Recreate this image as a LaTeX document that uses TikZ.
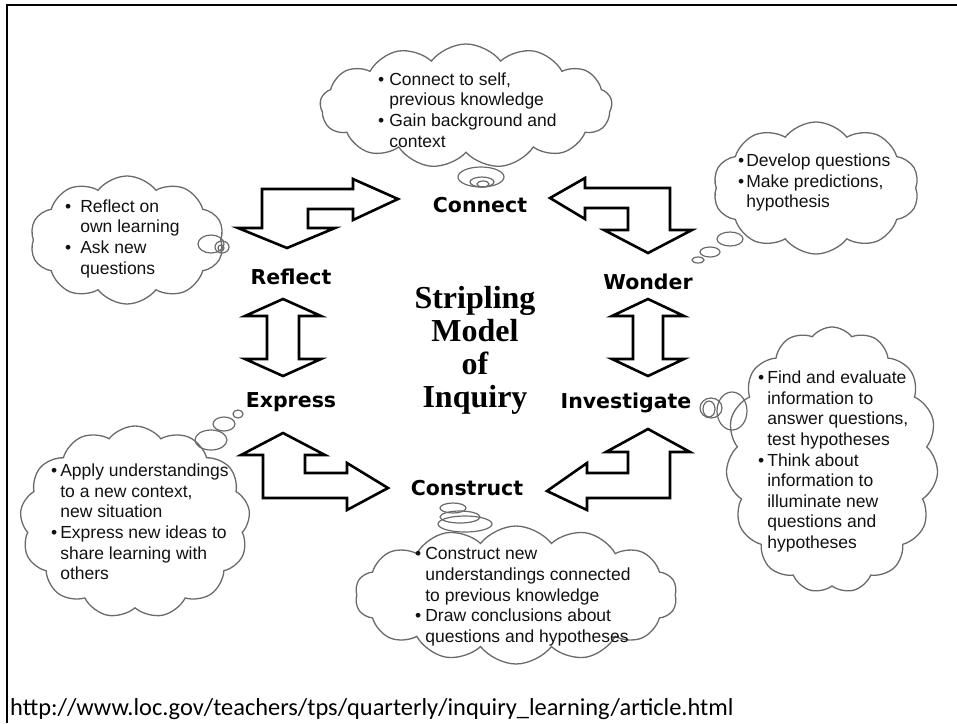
\documentclass[tikz,border=0pt]{standalone}
\usepackage{fontspec}
\setmainfont{Liberation Sans}
\newfontfamily\lblfont{DejaVu Sans}
\newfontfamily\titlefont{Liberation Serif}
\newfontfamily\urlfont{Carlito}
\usetikzlibrary{shapes.symbols}
\definecolor{cloudgray}{HTML}{6A6A6A}
\definecolor{txtgray}{HTML}{111111}
\tikzset{
  thoughtcloud/.style={cloud, cloud puffs=#1, cloud puff arc=105, cloud ignores aspect, draw=cloudgray, line width=1.3pt, inner sep=0pt},
  bubble/.style={draw=cloudgray, line width=1.2pt},
  blockarrow/.style={draw=black, line width=2.6pt, fill=white, line join=miter},
  stage/.style={font=\lblfont\bfseries\fontsize{20.5}{24}\selectfont, inner sep=0pt, anchor=base},
  titleline/.style={font=\titlefont\bfseries\fontsize{32}{33}\selectfont, inner sep=0pt, anchor=base},
  cloudtext/.style={font=\fontsize{17.5}{20.6}\selectfont, text=txtgray, inner sep=0pt, anchor=west, align=left},
  frameline/.style={draw=black, line width=2.6pt}
}
\begin{document}
\begin{tikzpicture}[x=1pt,y=-1pt]
\useasboundingbox (0,0) rectangle (957,723);
% frame
\coordinate (ftl) at (7,5);
\coordinate (ftr) at (957,5);
\coordinate (fbl) at (7,723);
\draw[frameline] (ftr) -- (ftl) -- (fbl);

% clouds
\node[thoughtcloud=13, minimum width=292pt, minimum height=124pt] (cconnect) at (466,106) {};
\node[thoughtcloud=10, minimum width=194pt, minimum height=128pt] (creflect) at (127,240) {};
\node[thoughtcloud=10, minimum width=206pt, minimum height=132pt] (cwonder) at (816,188) {};
\node[thoughtcloud=15, minimum width=212pt, minimum height=266pt] (cinvest) at (832,460) {};
\node[thoughtcloud=13, minimum width=230pt, minimum height=192pt] (cexpress) at (135,522) {};
\node[thoughtcloud=14, minimum width=322pt, minimum height=138pt] (cconstruct) at (516,595) {};

% thought bubbles
\draw[bubble] (481,177) ellipse [x radius=23, y radius=10];
\draw[bubble] (482,182) ellipse [x radius=12, y radius=5];
\draw[bubble] (483,184) ellipse [x radius=6, y radius=3];

\draw[bubble] (211,244) ellipse [x radius=13, y radius=9];
\draw[bubble] (222,247) ellipse [x radius=7, y radius=6];
\draw[bubble] (221,248) ellipse [x radius=3, y radius=3];

\draw[bubble] (730,239) ellipse [x radius=13, y radius=7];
\draw[bubble] (710,252) ellipse [x radius=10, y radius=5];
\draw[bubble] (698,260) ellipse [x radius=6, y radius=3];

\draw[bubble] (732,411) ellipse [x radius=15, y radius=19];
\draw[bubble] (711,408) ellipse [x radius=11, y radius=10];
\draw[bubble] (709,409) ellipse [x radius=6, y radius=8];

\draw[bubble] (211,440) ellipse [x radius=16, y radius=10];
\draw[bubble] (224,424) ellipse [x radius=11, y radius=7];
\draw[bubble] (238,414) ellipse [x radius=5, y radius=4];

\draw[bubble] (465,524) ellipse [x radius=27, y radius=8];
\draw[bubble] (460,517) ellipse [x radius=20, y radius=6];
\draw[bubble] (453,508) ellipse [x radius=13, y radius=5];

% cloud texts
\node[cloudtext] (tconnect) at (378,112) {\begin{tabular}{@{}l@{\hspace{5pt}}l@{}}\textbullet & Connect to self,\\ & previous knowledge\\ \textbullet & Gain background and\\ & context\end{tabular}};
\node[cloudtext] (treflect) at (65,239) {\begin{tabular}{@{}l@{\hspace{9pt}}l@{}}\textbullet & Reflect on\\ & own learning\\ \textbullet & Ask new\\ & questions\end{tabular}};
\node[cloudtext] (twonder) at (738,183) {\begin{tabular}{@{}l@{\hspace{2pt}}l@{}}\textbullet & Develop questions\\ \textbullet & Make predictions,\\ & hypothesis\end{tabular}};
\node[cloudtext] (tinvest) at (758,462) {\begin{tabular}{@{}l@{\hspace{3pt}}l@{}}\textbullet & Find and evaluate\\ & information to\\ & answer questions,\\ & test hypotheses\\ \textbullet & Think about\\ & information to\\ & illuminate new\\ & questions and\\ & hypotheses\end{tabular}};
\node[cloudtext] (texpress) at (51,524) {\begin{tabular}{@{}l@{\hspace{3pt}}l@{}}\textbullet & Apply understandings\\ & to a new context,\\ & new situation\\ \textbullet & Express new ideas to\\ & share learning with\\ & others\end{tabular}};
\node[cloudtext] (tconstruct) at (415,597) {\begin{tabular}{@{}l@{\hspace{4pt}}l@{}}\textbullet & Construct new\\ & understandings connected\\ & to previous knowledge\\ \textbullet & Draw conclusions about\\ & questions and hypotheses\end{tabular}};

% block arrows
\draw[blockarrow] (287,248) -- (335,228) -- (308,228) -- (308,209) -- (353,209) -- (353,220) -- (398,199) -- (353,179) -- (353,189) -- (262,189) -- (262,228) -- (238,228) -- cycle;
\draw[blockarrow] (550,198) -- (585,178) -- (585,188) -- (670,188) -- (670,230) -- (692,230) -- (648,253) -- (604,230) -- (628,230) -- (628,208) -- (585,208) -- (585,219) -- cycle;
\draw[blockarrow] (283,299) -- (321,316) -- (299,316) -- (299,359) -- (321,359) -- (283,376) -- (245,359) -- (267,359) -- (267,316) -- (245,316) -- cycle;
\draw[blockarrow] (648,299) -- (684,316) -- (663,316) -- (663,359) -- (684,359) -- (648,376) -- (612,359) -- (633,359) -- (633,316) -- (612,316) -- cycle;
\draw[blockarrow] (283,433) -- (325,455) -- (305,455) -- (305,473) -- (347,473) -- (347,463) -- (388,488) -- (347,510) -- (347,498) -- (263,498) -- (263,455) -- (241,455) -- cycle;
\draw[blockarrow] (547,491) -- (587,463) -- (587,473) -- (628,473) -- (628,452) -- (606,452) -- (648,429) -- (690,452) -- (670,452) -- (670,498) -- (587,498) -- (587,510) -- cycle;

% stage labels
\node[stage] (connect) at (480,212) {Connect};
\node[stage] (reflect) at (291,284) {Reflect};
\node[stage] (wonder) at (648,289) {Wonder};
\node[stage] (express) at (291,407) {Express};
\node[stage] (investigate) at (626,408) {Investigate};
\node[stage] (construct) at (467,495) {Construct};

% title
\node[titleline] (t1) at (475,308) {Stripling};
\node[titleline] (t2) at (475,341) {Model};
\node[titleline] (t3) at (475,374) {of};
\node[titleline] (t4) at (475,407) {Inquiry};

% url
\node[font=\urlfont\fontsize{24.4}{28}\selectfont, inner sep=0pt, anchor=base west] (url) at (10,715) {http://www.loc.gov/teachers/tps/quarterly/inquiry\_learning/article.html};
\end{tikzpicture}
\end{document}
